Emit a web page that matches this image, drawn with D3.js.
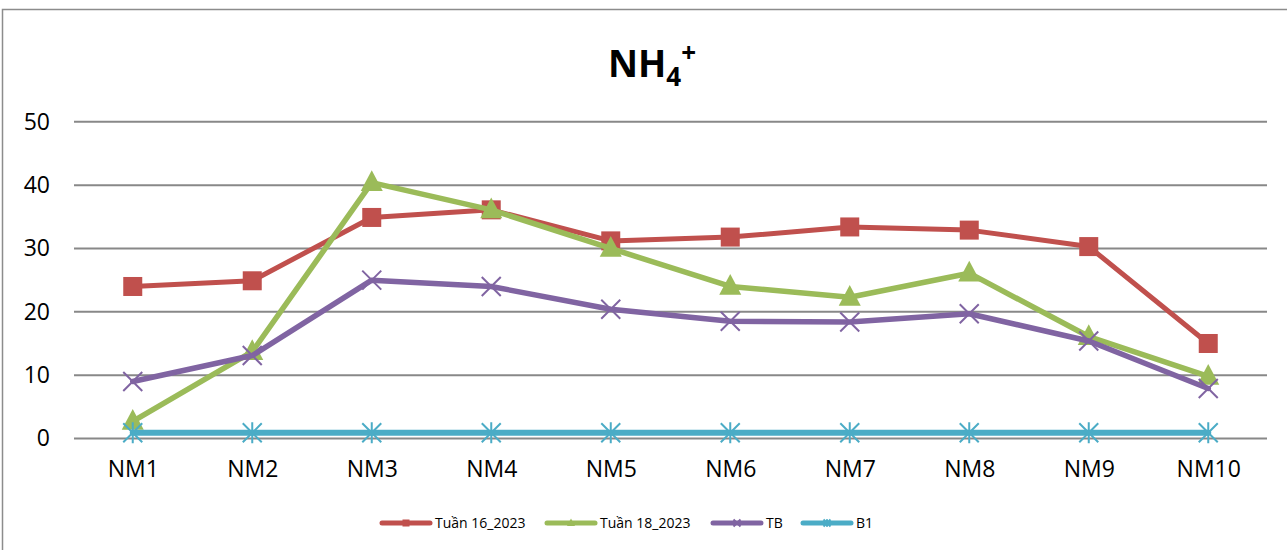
<!DOCTYPE html>
<html>
<head>
<meta charset="utf-8">
<script src="https://cdn.jsdelivr.net/npm/d3@7/dist/d3.min.js"></script>
<style>
  html, body { margin: 0; padding: 0; background: #fff; }
  svg { display: block; }
</style>
</head>
<body>
<svg id="chart" width="1287" height="550"></svg>
<script>
// Sampling sites
const categories = ["NM1", "NM2", "NM3", "NM4", "NM5", "NM6", "NM7", "NM8", "NM9", "NM10"];

// NH4+ concentrations per site
const week16 = [24.0, 24.9, 34.9, 36.1, 31.2, 31.8, 33.4, 32.9, 30.3, 15.0];
const week18 = [2.7, 13.7, 40.4, 36.1, 30.0, 24.0, 22.3, 26.1, 16.1, 9.8];
const average = [9.0, 13.1, 25.0, 24.0, 20.4, 18.5, 18.4, 19.7, 15.4, 7.9];
const limitB1 = [0.9, 0.9, 0.9, 0.9, 0.9, 0.9, 0.9, 0.9, 0.9, 0.9];

const yTicks = [0, 10, 20, 30, 40, 50];
const seriesNames = ["Tuần 16_2023", "Tuần 18_2023", "TB", "B1"];

const series = [
  { name: seriesNames[0], values: week16, color: "#C0504D", width: 5, marker: "square" },
  { name: seriesNames[1], values: week18, color: "#9BBB59", width: 5.5, marker: "triangle" },
  { name: seriesNames[2], values: average, color: "#8064A2", width: 5.5, marker: "x" },
  { name: seriesNames[3], values: limitB1, color: "#4BACC6", width: 6, marker: "star" }
];

const svg = d3.select("#chart");
const FONT = "'Open Sans', 'Liberation Sans', sans-serif";

// Outer chart border
svg.append("rect")
  .attr("x", 2.5).attr("y", 9.5)
  .attr("width", 1300).attr("height", 600)
  .attr("fill", "#fff")
  .attr("stroke", "#8c8c8c").attr("stroke-width", 1.5);

const plotLeft = 73, plotRight = 1268;
const x = d3.scalePoint().domain(categories).range([plotLeft, plotRight]).padding(0.5);
const y = d3.scaleLinear().domain([0, 50]).range([438.5, 121.8]);

// Horizontal gridlines
svg.append("g")
  .selectAll("line")
  .data(yTicks)
  .join("line")
  .attr("x1", plotLeft + 1).attr("x2", plotRight - 1)
  .attr("y1", d => y(d)).attr("y2", d => y(d))
  .attr("stroke", "#888").attr("stroke-width", 2);

// Y axis labels
const yAxis = svg.append("g")
  .attr("transform", `translate(${plotLeft},0)`)
  .call(d3.axisLeft(y).tickValues(yTicks).tickSize(0).tickPadding(23).tickFormat(d3.format("d")));
yAxis.select(".domain").remove();
yAxis.selectAll("text")
  .attr("font-family", FONT).attr("font-size", 23).attr("fill", "#000");

// X axis labels
const xAxis = svg.append("g")
  .attr("transform", `translate(0,${y(0)})`)
  .call(d3.axisBottom(x).tickSize(0).tickPadding(22));
xAxis.select(".domain").remove();
xAxis.selectAll("text")
  .attr("font-family", FONT).attr("font-size", 23).attr("fill", "#000");

// Marker shapes
function drawMarker(g, type, color, s) {
  if (type === "square") {
    g.append("rect").attr("x", -s / 2).attr("y", -s / 2).attr("width", s).attr("height", s)
      .attr("fill", color);
  } else if (type === "triangle") {
    const h = s * 1.05;
    g.append("path")
      .attr("d", `M0,${-h * 0.62}L${s * 0.58},${h * 0.42}L${-s * 0.58},${h * 0.42}Z`)
      .attr("fill", color);
  } else if (type === "x") {
    const r = s / 2;
    g.append("path").attr("d", `M${-r},${-r}L${r},${r}M${-r},${r}L${r},${-r}`)
      .attr("stroke", color).attr("stroke-width", 2).attr("fill", "none");
  } else if (type === "star") {
    const r = s / 2;
    g.append("path").attr("d", `M${-r},${-r}L${r},${r}M${-r},${r}L${r},${-r}M0,${-r * 1.1}L0,${r * 1.1}`)
      .attr("stroke", color).attr("stroke-width", 2).attr("fill", "none");
  }
}

const line = d3.line().x((d, i) => x(categories[i])).y(d => y(d));

series.forEach(s => {
  const g = svg.append("g");
  g.append("path")
    .datum(s.values)
    .attr("d", line)
    .attr("fill", "none")
    .attr("stroke", s.color)
    .attr("stroke-width", s.width)
    .attr("stroke-linejoin", "round")
    .attr("stroke-linecap", "round");
  s.values.forEach((v, i) => {
    const m = g.append("g").attr("transform", `translate(${x(categories[i])},${y(v)})`);
    drawMarker(m, s.marker, s.color, 19);
  });
});

// Title: NH4+
const title = svg.append("text")
  .attr("x", 652).attr("y", 77)
  .attr("text-anchor", "middle")
  .attr("font-family", FONT).attr("font-weight", "bold").attr("font-size", 37)
  .attr("fill", "#000");
title.append("tspan").text("NH");
title.append("tspan").attr("dy", 9).attr("font-size", 26).text("4");
title.append("tspan").attr("dy", -24).attr("font-size", 26).text("+");

// Legend
const legendItems = [
  { x: 382, textX: 435 },
  { x: 547, textX: 600 },
  { x: 713, textX: 766 },
  { x: 803, textX: 856 }
];
const ly = 523;
series.forEach((s, i) => {
  const it = legendItems[i];
  const g = svg.append("g");
  g.append("line")
    .attr("x1", it.x).attr("x2", it.x + 48)
    .attr("y1", ly).attr("y2", ly)
    .attr("stroke", s.color).attr("stroke-width", 5).attr("stroke-linecap", "round");
  const m = g.append("g").attr("transform", `translate(${it.x + 24},${ly})`);
  drawMarker(m, s.marker, s.color, 7);
  g.append("text")
    .attr("x", it.textX).attr("y", ly + 5)
    .attr("font-family", FONT).attr("font-size", 14).attr("fill", "#000")
    .text(s.name);
});
</script>
</body>
</html>
